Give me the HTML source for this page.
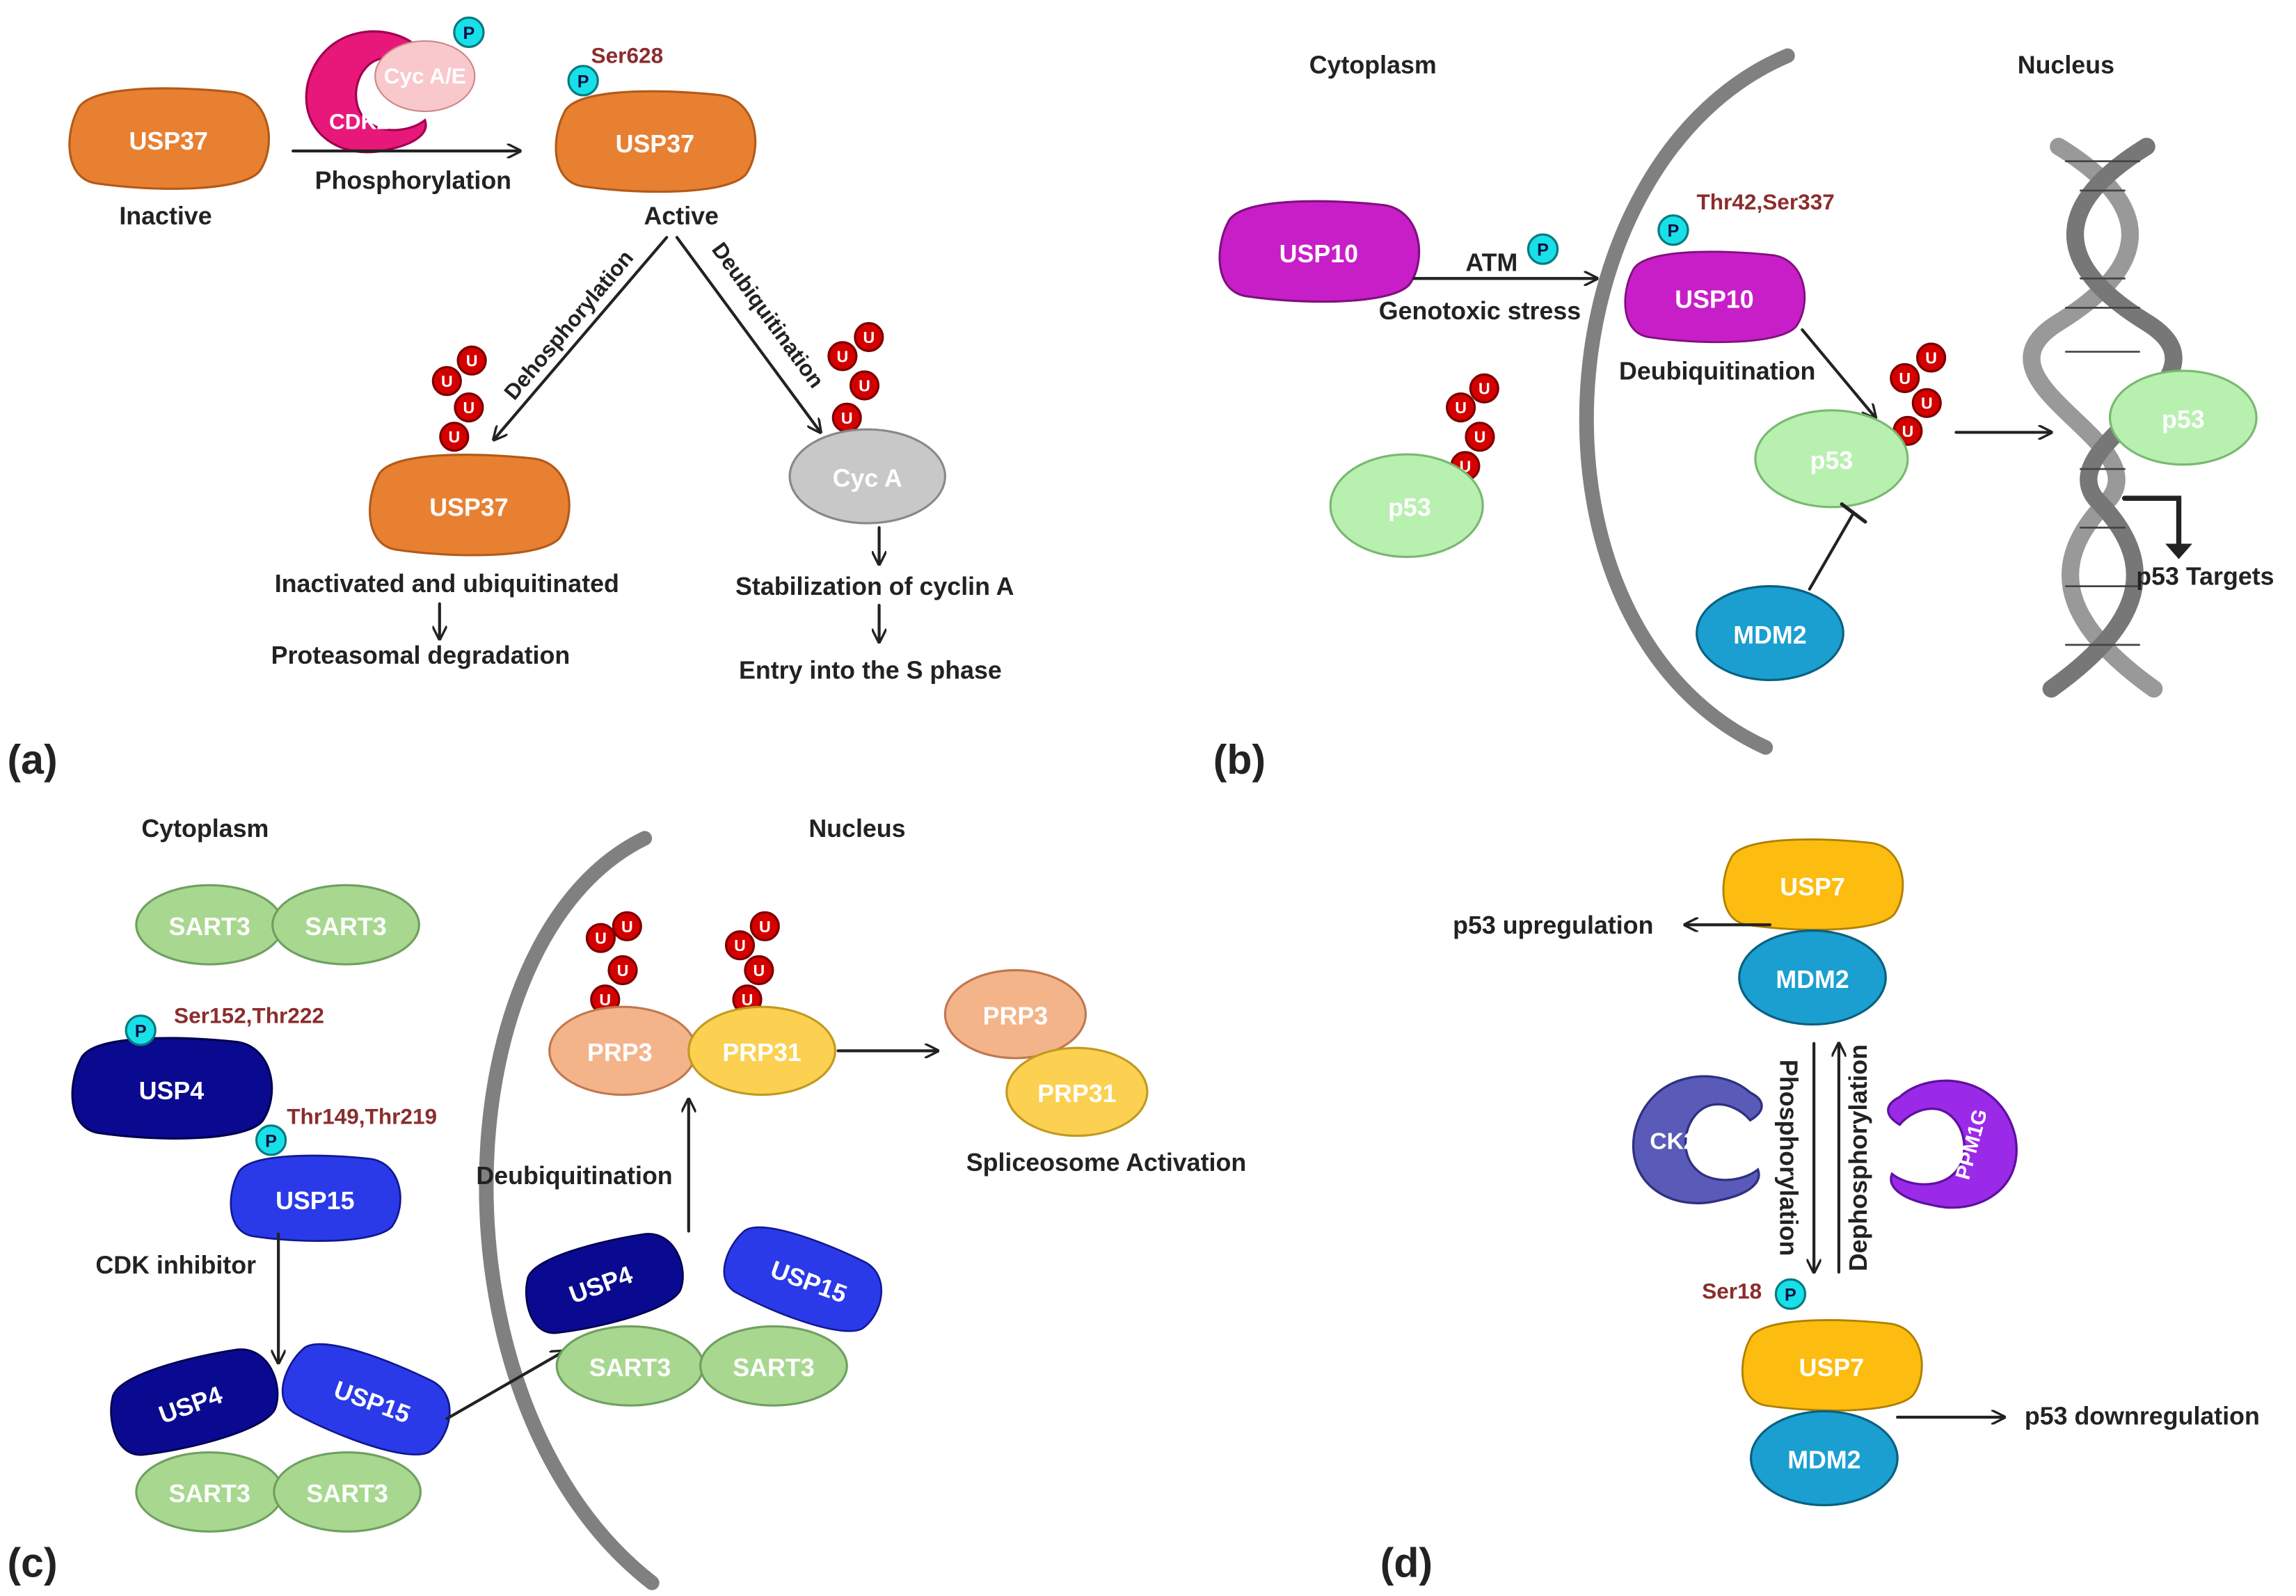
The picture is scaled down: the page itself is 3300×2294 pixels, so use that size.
<!DOCTYPE html>
<html><head><meta charset="utf-8"><style>
html,body{margin:0;padding:0;background:#fff;}
svg{display:block;}
text{font-family:"Liberation Sans",Arial,sans-serif;font-weight:bold;}
</style></head><body>
<svg width="3300" height="2294" viewBox="0 0 1567 1089" preserveAspectRatio="none" xmlns="http://www.w3.org/2000/svg">
<defs>
<marker id="ar" markerWidth="10" markerHeight="10" refX="9" refY="5" orient="auto" markerUnits="userSpaceOnUse"><path d="M0,0 L10,5 L0,10" fill="none" stroke="#222" stroke-width="1.6"/></marker>
<path id="blob" d="M-62,-20 C-55,-38 10,-36 45,-32 C70,-28 74,5 62,22 C50,36 -10,36 -50,30 C-72,26 -70,-5 -62,-20Z"/>
<path id="cshape" d="M30,-30 C10,-48 -35,-45 -45,-5 C-52,30 -20,48 10,40 C30,36 38,28 35,20 C25,28 5,30 -5,20 C-18,8 -12,-18 5,-22 C15,-24 25,-18 30,-12 C40,-18 40,-25 30,-30Z"/>
<g id="ub"><circle r="9.5" fill="#d40000" stroke="#7a0000" stroke-width="1.5"/><text y="4" text-anchor="middle" font-size="11" fill="#fff">U</text></g>
<g id="ph"><circle r="10" fill="#18e0e8" stroke="#0a7a80" stroke-width="1.5"/><text y="4.5" text-anchor="middle" font-size="12" fill="#114">P</text></g>
</defs>
<g font-size="17" fill="#222" stroke-linecap="round">

<!-- (a) -->
<use href="#blob" x="115" y="95" fill="#e88032" stroke="#b35a18" stroke-width="1.5"/>
<text x="115" y="102" text-anchor="middle" fill="#fff">USP37</text>
<text x="113" y="153" text-anchor="middle">Inactive</text>
<use href="#cshape" transform="translate(255,62) scale(1)" fill="#e8187a" stroke="#a00050" stroke-width="1.5"/>
<ellipse cx="290" cy="52" rx="34" ry="24" fill="#f8c8cc" stroke="#c88" stroke-width="1"/>
<text x="290" y="57" text-anchor="middle" font-size="15" fill="#fff">Cyc A/E</text>
<text x="245" y="88" text-anchor="middle" font-size="15" fill="#fff">CDK2</text>
<use href="#ph" x="320" y="22"/>
<line x1="200" y1="103" x2="355" y2="103" stroke="#222" stroke-width="2" marker-end="url(#ar)"/>
<text x="282" y="129" text-anchor="middle">Phosphorylation</text>
<use href="#blob" x="447" y="97" fill="#e88032" stroke="#b35a18" stroke-width="1.5"/>
<text x="447" y="104" text-anchor="middle" fill="#fff">USP37</text>
<use href="#ph" x="398" y="55"/>
<text x="428" y="43" text-anchor="middle" font-size="15" fill="#8b2d2d">Ser628</text>
<text x="465" y="153" text-anchor="middle">Active</text>
<line x1="455" y1="162" x2="337" y2="300" stroke="#222" stroke-width="2" marker-end="url(#ar)"/>
<text transform="translate(392,225) rotate(-50)" text-anchor="middle" font-size="15">Dehosphorylation</text>
<line x1="462" y1="162" x2="560" y2="295" stroke="#222" stroke-width="2" marker-end="url(#ar)"/>
<text transform="translate(520,218) rotate(54)" text-anchor="middle" font-size="15">Deubiquitination</text>
<use href="#ub" x="305" y="260"/><use href="#ub" x="322" y="246"/><use href="#ub" x="320" y="278"/><use href="#ub" x="310" y="298"/>
<use href="#blob" x="320" y="345" fill="#e88032" stroke="#b35a18" stroke-width="1.5"/>
<text x="320" y="352" text-anchor="middle" fill="#fff">USP37</text>
<text x="305" y="404" text-anchor="middle">Inactivated and ubiquitinated</text>
<line x1="300" y1="412" x2="300" y2="436" stroke="#222" stroke-width="2" marker-end="url(#ar)"/>
<text x="287" y="453" text-anchor="middle">Proteasomal degradation</text>
<use href="#ub" x="575" y="243"/><use href="#ub" x="593" y="230"/><use href="#ub" x="590" y="263"/><use href="#ub" x="578" y="285"/>
<ellipse cx="592" cy="325" rx="53" ry="32" fill="#c8c8c8" stroke="#888" stroke-width="1.5"/>
<text x="592" y="332" text-anchor="middle" fill="#fff">Cyc A</text>
<line x1="600" y1="360" x2="600" y2="385" stroke="#222" stroke-width="2" marker-end="url(#ar)"/>
<text x="597" y="406" text-anchor="middle">Stabilization of cyclin A</text>
<line x1="600" y1="413" x2="600" y2="438" stroke="#222" stroke-width="2" marker-end="url(#ar)"/>
<text x="594" y="463" text-anchor="middle">Entry into the S phase</text>
<text x="5" y="528" font-size="28">(a)</text>

<!-- (b) -->
<text x="937" y="50" text-anchor="middle">Cytoplasm</text>
<text x="1410" y="50" text-anchor="middle">Nucleus</text>
<path d="M1220,38 C1050,110 1030,430 1205,510" fill="none" stroke="#808080" stroke-width="10"/>
<use href="#blob" x="900" y="172" fill="#c81ec8" stroke="#801080" stroke-width="1.5"/>
<text x="900" y="179" text-anchor="middle" fill="#fff">USP10</text>
<line x1="965" y1="190" x2="1090" y2="190" stroke="#222" stroke-width="2" marker-end="url(#ar)"/>
<text x="1018" y="185" text-anchor="middle">ATM</text>
<use href="#ph" x="1053" y="170"/>
<text x="1010" y="218" text-anchor="middle">Genotoxic stress</text>
<use href="#blob" transform="translate(1170,203) scale(0.9)" fill="#c81ec8" stroke="#801080" stroke-width="1.5"/>
<text x="1170" y="210" text-anchor="middle" fill="#fff">USP10</text>
<use href="#ph" x="1142" y="157"/>
<text x="1205" y="143" text-anchor="middle" font-size="15" fill="#8b2d2d">Thr42,Ser337</text>
<text x="1172" y="259" text-anchor="middle">Deubiquitination</text>
<line x1="1230" y1="225" x2="1280" y2="285" stroke="#222" stroke-width="2" marker-end="url(#ar)"/>
<use href="#ub" x="1013" y="265"/><use href="#ub" x="997" y="278"/><use href="#ub" x="1010" y="298"/><use href="#ub" x="1000" y="318"/>
<ellipse cx="960" cy="345" rx="52" ry="35" fill="#b8f0b0" stroke="#7ab872" stroke-width="1.5"/>
<text x="962" y="352" text-anchor="middle" fill="#fff">p53</text>
<use href="#ub" x="1318" y="244"/><use href="#ub" x="1300" y="258"/><use href="#ub" x="1315" y="275"/><use href="#ub" x="1302" y="294"/>
<ellipse cx="1250" cy="313" rx="52" ry="33" fill="#b8f0b0" stroke="#7ab872" stroke-width="1.5"/>
<text x="1250" y="320" text-anchor="middle" fill="#fff">p53</text>
<ellipse cx="1208" cy="432" rx="50" ry="32" fill="#1a9fd0" stroke="#0a6080" stroke-width="1.5"/>
<text x="1208" y="439" text-anchor="middle" fill="#fff">MDM2</text>
<line x1="1235" y1="402" x2="1265" y2="350" stroke="#222" stroke-width="2"/>
<line x1="1257" y1="344" x2="1273" y2="356" stroke="#222" stroke-width="2.5"/>
<line x1="1335" y1="295" x2="1400" y2="295" stroke="#222" stroke-width="2" marker-end="url(#ar)"/>
<path d="M1405,100 C1470,140 1470,180 1405,220 C1340,260 1470,300 1440,340 C1400,380 1400,420 1470,470" fill="none" stroke-width="12" stroke="#999"/>
<path d="M1465,100 C1400,140 1400,180 1465,220 C1530,260 1400,300 1430,340 C1470,380 1470,420 1400,470" fill="none" stroke-width="12" stroke="#777"/>
<g stroke="#444" stroke-width="1.3">
<line x1="1410" y1="110" x2="1460" y2="110"/><line x1="1420" y1="130" x2="1450" y2="130"/><line x1="1420" y1="190" x2="1450" y2="190"/><line x1="1410" y1="210" x2="1460" y2="210"/>
<line x1="1410" y1="240" x2="1460" y2="240"/><line x1="1420" y1="320" x2="1450" y2="320"/><line x1="1420" y1="360" x2="1450" y2="360"/><line x1="1410" y1="400" x2="1460" y2="400"/><line x1="1410" y1="440" x2="1460" y2="440"/>
</g>
<ellipse cx="1490" cy="285" rx="50" ry="32" fill="#b8f0b0" stroke="#7ab872" stroke-width="1.5"/>
<text x="1490" y="292" text-anchor="middle" fill="#fff">p53</text>
<path d="M1450,340 L1487,340 L1487,375" fill="none" stroke="#222" stroke-width="3.5"/>
<path d="M1480,372 L1487,380 L1494,372Z" fill="#222" stroke="#222" stroke-width="2"/>
<text x="1505" y="399" text-anchor="middle">p53 Targets</text>
<text x="828" y="528" font-size="28">(b)</text>

<!-- (c) -->
<text x="140" y="571" text-anchor="middle">Cytoplasm</text>
<text x="585" y="571" text-anchor="middle">Nucleus</text>
<path d="M440,572 C300,640 290,960 445,1080" fill="none" stroke="#808080" stroke-width="10"/>
<ellipse cx="143" cy="631" rx="50" ry="27" fill="#a8d890" stroke="#70a060" stroke-width="1.5"/>
<ellipse cx="236" cy="631" rx="50" ry="27" fill="#a8d890" stroke="#70a060" stroke-width="1.5"/>
<text x="143" y="638" text-anchor="middle" fill="#fff">SART3</text><text x="236" y="638" text-anchor="middle" fill="#fff">SART3</text>
<use href="#blob" x="117" y="743" fill="#0a0a90" stroke="#000050" stroke-width="1.5"/>
<text x="117" y="750" text-anchor="middle" fill="#fff">USP4</text>
<use href="#ph" x="96" y="703"/>
<text x="170" y="698" text-anchor="middle" font-size="15" fill="#8b2d2d">Ser152,Thr222</text>
<use href="#blob" transform="translate(215,818) scale(0.85)" fill="#2a3ae8" stroke="#101890" stroke-width="1.5"/>
<text x="215" y="825" text-anchor="middle" fill="#fff">USP15</text>
<use href="#ph" x="185" y="778"/>
<text x="247" y="767" text-anchor="middle" font-size="15" fill="#8b2d2d">Thr149,Thr219</text>
<text x="120" y="869" text-anchor="middle">CDK inhibitor</text>
<line x1="190" y1="842" x2="190" y2="930" stroke="#222" stroke-width="2" marker-end="url(#ar)"/>
<ellipse cx="143" cy="1018" rx="50" ry="27" fill="#a8d890" stroke="#70a060" stroke-width="1.5"/>
<ellipse cx="237" cy="1018" rx="50" ry="27" fill="#a8d890" stroke="#70a060" stroke-width="1.5"/>
<text x="143" y="1025" text-anchor="middle" fill="#fff">SART3</text><text x="237" y="1025" text-anchor="middle" fill="#fff">SART3</text>
<use href="#blob" transform="translate(132,957) rotate(-15) scale(0.85)" fill="#0a0a90" stroke="#000050" stroke-width="1.5"/>
<text transform="translate(132,964) rotate(-20)" text-anchor="middle" fill="#fff">USP4</text>
<use href="#blob" transform="translate(250,955) rotate(20) scale(0.85)" fill="#2a3ae8" stroke="#101890" stroke-width="1.5"/>
<text transform="translate(252,962) rotate(20)" text-anchor="middle" fill="#fff">USP15</text>
<line x1="305" y1="968" x2="385" y2="922" stroke="#222" stroke-width="2" marker-end="url(#ar)"/>
<ellipse cx="430" cy="932" rx="50" ry="27" fill="#a8d890" stroke="#70a060" stroke-width="1.5"/>
<ellipse cx="528" cy="932" rx="50" ry="27" fill="#a8d890" stroke="#70a060" stroke-width="1.5"/>
<text x="430" y="939" text-anchor="middle" fill="#fff">SART3</text><text x="528" y="939" text-anchor="middle" fill="#fff">SART3</text>
<use href="#blob" transform="translate(412,876) rotate(-15) scale(0.8)" fill="#0a0a90" stroke="#000050" stroke-width="1.5"/>
<text transform="translate(412,882) rotate(-20)" text-anchor="middle" fill="#fff">USP4</text>
<use href="#blob" transform="translate(548,873) rotate(20) scale(0.8)" fill="#2a3ae8" stroke="#101890" stroke-width="1.5"/>
<text transform="translate(550,880) rotate(20)" text-anchor="middle" fill="#fff">USP15</text>
<text x="392" y="808" text-anchor="middle">Deubiquitination</text>
<line x1="470" y1="840" x2="470" y2="750" stroke="#222" stroke-width="2" marker-end="url(#ar)"/>
<use href="#ub" x="410" y="640"/><use href="#ub" x="428" y="632"/><use href="#ub" x="425" y="662"/><use href="#ub" x="413" y="682"/>
<use href="#ub" x="505" y="645"/><use href="#ub" x="522" y="632"/><use href="#ub" x="518" y="662"/><use href="#ub" x="510" y="682"/>
<ellipse cx="425" cy="717" rx="50" ry="30" fill="#f4b48a" stroke="#c07850" stroke-width="1.5"/>
<ellipse cx="520" cy="717" rx="50" ry="30" fill="#fcd050" stroke="#c09a20" stroke-width="1.5"/>
<text x="423" y="724" text-anchor="middle" fill="#fff">PRP3</text><text x="520" y="724" text-anchor="middle" fill="#fff">PRP31</text>
<line x1="572" y1="717" x2="640" y2="717" stroke="#222" stroke-width="2" marker-end="url(#ar)"/>
<ellipse cx="693" cy="692" rx="48" ry="30" fill="#f4b48a" stroke="#c07850" stroke-width="1.5"/>
<ellipse cx="735" cy="745" rx="48" ry="30" fill="#fcd050" stroke="#c09a20" stroke-width="1.5"/>
<text x="693" y="699" text-anchor="middle" fill="#fff">PRP3</text><text x="735" y="752" text-anchor="middle" fill="#fff">PRP31</text>
<text x="755" y="799" text-anchor="middle">Spliceosome Activation</text>
<text x="5" y="1076" font-size="28">(c)</text>

<!-- (d) -->
<use href="#blob" transform="translate(1237,604) scale(0.9)" fill="#fcbc10" stroke="#b08000" stroke-width="1.5"/>
<text x="1237" y="611" text-anchor="middle" fill="#fff">USP7</text>
<ellipse cx="1237" cy="667" rx="50" ry="32" fill="#1a9fd0" stroke="#0a6080" stroke-width="1.5"/>
<text x="1237" y="674" text-anchor="middle" fill="#fff">MDM2</text>
<line x1="1208" y1="631" x2="1150" y2="631" stroke="#222" stroke-width="2" marker-end="url(#ar)"/>
<text x="1060" y="637" text-anchor="middle">p53 upregulation</text>
<line x1="1238" y1="712" x2="1238" y2="868" stroke="#222" stroke-width="2" marker-end="url(#ar)"/>
<line x1="1255" y1="868" x2="1255" y2="712" stroke="#222" stroke-width="2" marker-end="url(#ar)"/>
<text transform="translate(1215,790) rotate(90)" text-anchor="middle">Phosphorylation</text>
<text transform="translate(1274,790) rotate(-90)" text-anchor="middle">Dephosphorylation</text>
<use href="#cshape" transform="translate(1163,777) scale(1.05)" fill="#5a5ab8" stroke="#303080" stroke-width="1.5"/>
<text x="1142" y="784" text-anchor="middle" font-size="16" fill="#fff">CK2</text>
<use href="#cshape" transform="translate(1328,780) scale(-1.05,1.05)" fill="#9a2ae8" stroke="#6010a0" stroke-width="1.5"/>
<text transform="translate(1350,782) rotate(-75)" text-anchor="middle" font-size="14" fill="#fff">PPM1G</text>
<text x="1182" y="886" text-anchor="middle" font-size="15" fill="#8b2d2d">Ser18</text>
<use href="#ph" x="1222" y="883"/>
<use href="#blob" transform="translate(1250,932) scale(0.9)" fill="#fcbc10" stroke="#b08000" stroke-width="1.5"/>
<text x="1250" y="939" text-anchor="middle" fill="#fff">USP7</text>
<ellipse cx="1245" cy="995" rx="50" ry="32" fill="#1a9fd0" stroke="#0a6080" stroke-width="1.5"/>
<text x="1245" y="1002" text-anchor="middle" fill="#fff">MDM2</text>
<line x1="1295" y1="967" x2="1368" y2="967" stroke="#222" stroke-width="2" marker-end="url(#ar)"/>
<text x="1462" y="972" text-anchor="middle">p53 downregulation</text>
<text x="942" y="1076" font-size="28">(d)</text>
</g>
</svg>
</body></html>
